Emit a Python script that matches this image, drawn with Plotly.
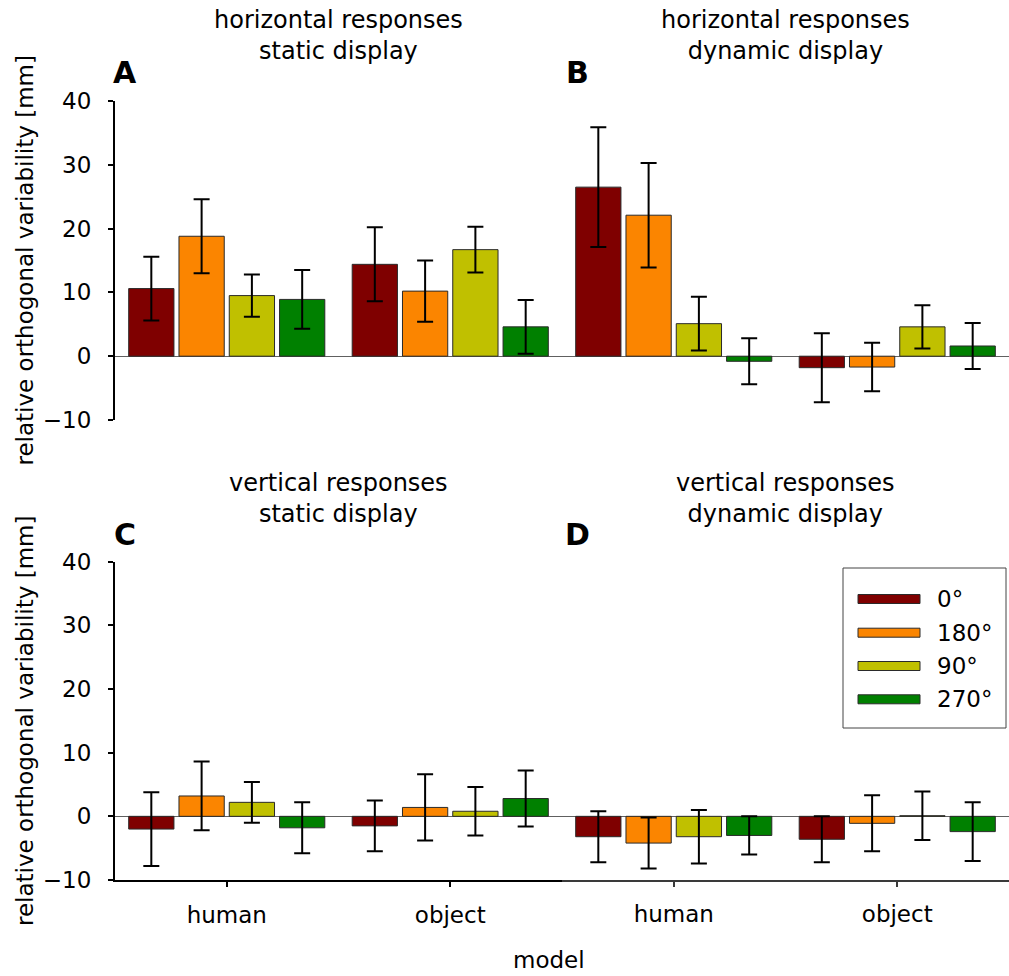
import plotly.graph_objects as go

# ---- data -----------------------------------------------------------------
models = ["human", "object"]
angles = ["0°", "180°", "90°", "270°"]
angle_colors = ["#7f0000", "#fb8500", "#c0c000", "#008000"]

# mean values per angle, each list = [human, object]
horiz_static_mean = [[10.6, 14.4], [18.8, 10.2], [9.5, 16.7], [8.9, 4.6]]
horiz_static_err = [[5.0, 5.8], [5.8, 4.8], [3.3, 3.6], [4.6, 4.2]]

horiz_dynamic_mean = [[26.5, -1.8], [22.1, -1.7], [5.1, 4.6], [-0.8, 1.6]]
horiz_dynamic_err = [[9.4, 5.4], [8.2, 3.8], [4.2, 3.4], [3.6, 3.6]]

vert_static_mean = [[-2.0, -1.5], [3.2, 1.4], [2.2, 0.8], [-1.8, 2.8]]
vert_static_err = [[5.8, 4.0], [5.4, 5.2], [3.2, 3.8], [4.0, 4.4]]

vert_dynamic_mean = [[-3.2, -3.6], [-4.2, -1.1], [-3.2, 0.1], [-3.0, -2.4]]
vert_dynamic_err = [[4.0, 3.6], [4.0, 4.4], [4.2, 3.8], [3.0, 4.6]]

y_ticks = [-10, 0, 10, 20, 30, 40]
y_range = [-10, 40]

panel_titles = [
    ("horizontal responses", "static display"),
    ("horizontal responses", "dynamic display"),
    ("vertical responses", "static display"),
    ("vertical responses", "dynamic display"),
]
panel_letters = ["A", "B", "C", "D"]
y_title = "relative orthogonal variability [mm]"
x_title = "model"

# ---- geometry helpers (pixel -> paper) -------------------------------------
W, H = 1009, 976
FONT = "DejaVu Sans"


def px(x):
    return x / W


def py(y):
    return 1 - y / H


x_left = [px(115), px(562)]
x_right = [px(562), 1.0]
y_top = [py(420), py(101)]
y_bottom = [py(880), py(561.7)]

panels = [
    (horiz_static_mean, horiz_static_err, "x", "y"),
    (horiz_dynamic_mean, horiz_dynamic_err, "x2", "y2"),
    (vert_static_mean, vert_static_err, "x3", "y3"),
    (vert_dynamic_mean, vert_dynamic_err, "x4", "y4"),
]

fig = go.Figure()
for means, errs, xa, ya in panels:
    for i, ang in enumerate(angles):
        fig.add_trace(go.Bar(
            x=models,
            y=means[i],
            name=ang,
            xaxis=xa,
            yaxis=ya,
            marker=dict(color=angle_colors[i], line=dict(color="#2a2a2a", width=1)),
            error_y=dict(type="data", array=errs[i], color="black",
                         thickness=2, width=8),
            showlegend=False,
        ))

tick_font = dict(family=FONT, size=23, color="black")


def y_axis(domain, anchor, visible_axis):
    ax = dict(
        domain=domain, anchor=anchor, range=y_range, automargin=False,
        showgrid=False, zeroline=True, zerolinecolor="#606060", zerolinewidth=1,
        fixedrange=True,
    )
    if visible_axis:
        ax.update(showline=True, linecolor="black", linewidth=2,
                  ticks="outside", ticklen=5, tickwidth=2, tickcolor="black",
                  tickvals=y_ticks, tickfont=tick_font, ticklabelstandoff=12)
    else:
        ax.update(showline=False, showticklabels=False, ticks="")
    return ax


def x_axis(domain, anchor, visible_axis, line_color="black", line_width=2):
    ax = dict(
        domain=domain, anchor=anchor, type="category", automargin=False,
        categoryorder="array", categoryarray=models, range=[-0.5, 1.5],
        showgrid=False, zeroline=False, fixedrange=True,
    )
    if visible_axis:
        ax.update(showline=True, linecolor=line_color, linewidth=line_width,
                  ticks="outside", ticklen=5, tickwidth=2, tickcolor=line_color,
                  tickfont=tick_font, ticklabelstandoff=8)
    else:
        ax.update(showline=False, showticklabels=False, ticks="")
    return ax


fig.update_layout(
    width=W, height=H, autosize=False,
    margin=dict(l=0, r=0, t=0, b=0, pad=0, autoexpand=False),
    paper_bgcolor="white", plot_bgcolor="white",
    barmode="group", bargap=0.1, bargroupgap=0.1,
    font=dict(family=FONT, size=23, color="black"),
    xaxis=x_axis(x_left, "y", False),
    yaxis=y_axis(y_top, "x", True),
    xaxis2=x_axis(x_right, "y2", False),
    yaxis2=y_axis(y_top, "x2", False),
    xaxis3=x_axis(x_left, "y3", True),
    yaxis3=y_axis(y_bottom, "x3", True),
    xaxis4=x_axis(x_right, "y4", True, line_color="#3a3a3a", line_width=1.5),
    yaxis4=y_axis(y_bottom, "x4", False),
)

annotations = []
shapes = []

# panel titles (two lines each)
title_centers_x = [338.5, 785.5, 338.5, 785.5]
title_centers_y = [36, 36, 498, 498]
for (l1, l2), cx, cy in zip(panel_titles, title_centers_x, title_centers_y):
    annotations.append(dict(
        text=f"{l1}<br>{l2}", x=px(cx), y=py(cy), xref="paper", yref="paper",
        xanchor="center", yanchor="middle", align="center", showarrow=False,
        font=dict(family=FONT, size=24, color="black")))

# panel letters
letter_pos = [(125, 73), (577, 73), (125, 534), (577, 534)]
for letter, (lx, ly) in zip(panel_letters, letter_pos):
    annotations.append(dict(
        text=f"<b>{letter}</b>", x=px(lx), y=py(ly), xref="paper", yref="paper",
        xanchor="center", yanchor="middle", showarrow=False,
        font=dict(family=FONT, size=30, color="black")))

# y-axis titles for both rows
for cy in (260.5, 721):
    annotations.append(dict(
        text=y_title, x=px(25), y=py(cy), xref="paper", yref="paper",
        xanchor="center", yanchor="middle", textangle=-90, showarrow=False,
        font=dict(family=FONT, size=23, color="black")))

# shared x-axis title
annotations.append(dict(
    text=x_title, x=px(549), y=py(960), xref="paper", yref="paper",
    xanchor="center", yanchor="middle", showarrow=False,
    font=dict(family=FONT, size=23, color="black")))

# legend box with wide colour swatches
shapes.append(dict(type="rect", xref="paper", yref="paper",
                   x0=px(843), x1=px(1006), y0=py(728), y1=py(568),
                   line=dict(color="#444444", width=1), fillcolor="white"))
row_y = [599, 632.7, 666, 699.3]
for ang, col, ry in zip(angles, angle_colors, row_y):
    shapes.append(dict(type="rect", xref="paper", yref="paper",
                       x0=px(858), x1=px(920), y0=py(ry + 4.5), y1=py(ry - 4.5),
                       line=dict(color="#2a2a2a", width=1), fillcolor=col))
    annotations.append(dict(
        text=ang, x=px(935), y=py(ry), xref="paper", yref="paper",
        xanchor="left", yanchor="middle", showarrow=False,
        font=dict(family=FONT, size=23, color="black")))

fig.update_layout(annotations=annotations, shapes=shapes)

fig.write_html("out.html", config={"displayModeBar": False})
